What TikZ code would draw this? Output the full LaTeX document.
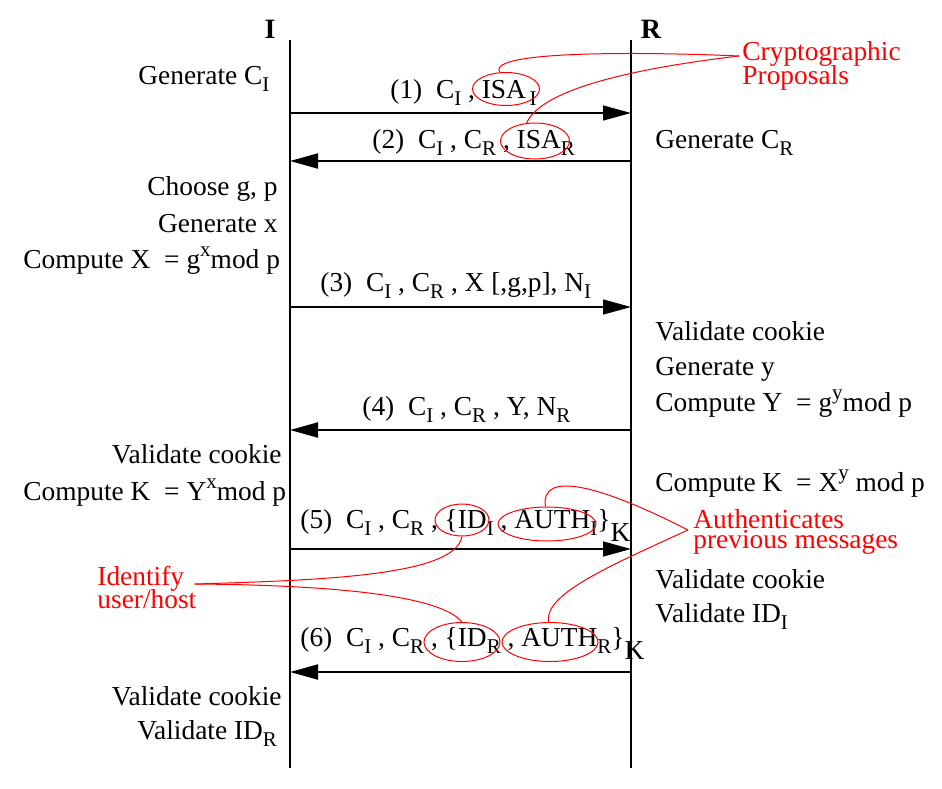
\documentclass[tikz,border=0pt]{standalone}
\usepackage{fontspec}
\setmainfont{Liberation Serif}
\usetikzlibrary{arrows.meta,shapes.geometric,calc}
\lineskiplimit=-20pt
\newcommand\dn[1]{\raisebox{-0.28em}{\fontsize{10.5pt}{12pt}\selectfont #1}}
\newcommand\up[1]{\raisebox{0.42em}{\fontsize{10.5pt}{12pt}\selectfont #1}}
\newcommand\dnK{\raisebox{-0.5em}{K}}
\begin{document}
\begin{tikzpicture}[x=0.5pt,y=-0.5pt,
  every node/.style={font=\fontsize{13.7pt}{16pt}\selectfont, inner sep=0pt},
  lifeline/.style={line width=0.7pt},
  msg/.style={line width=0.7pt,-{Triangle[length=14pt,width=7.5pt]}},
  msgb/.style={line width=1pt,-{Triangle[length=14pt,width=7.5pt]}},
  lbl/.style={anchor=base west},
  lblr/.style={anchor=base east},
  note/.style={text=red, align=left, anchor=north west},
  oval/.style={ellipse, draw=red, line width=0.5pt, inner sep=0pt},
  callout/.style={red, line width=0.5pt}]
\useasboundingbox (0,0) rectangle (942,788);
% lifelines
\node[anchor=base, font=\fontsize{14pt}{16pt}\selectfont\bfseries] (Ilbl) at (270,38) {I};
\node[anchor=base, font=\fontsize{14pt}{16pt}\selectfont\bfseries] (Rlbl) at (651,38) {R};
\coordinate (Itop) at (290,40); \coordinate (Ibot) at (290,768);
\coordinate (Rtop) at (631,40); \coordinate (Rbot) at (631,768);
\draw[lifeline] (Itop) -- (Ibot);
\draw[lifeline] (Rtop) -- (Rbot);
% message anchors
\foreach \n/\y in {1/113,2/161,3/307,4/430,5/549,6/672}{
  \coordinate (I\n) at (290,\y); \coordinate (R\n) at (631,\y);}
\draw[msg]  (I1) -- (R1);
\draw[msgb] (R2) -- (I2);
\draw[msg]  (I3) -- (R3);
\draw[msgb] (R4) -- (I4);
\draw[msg]  (I5) -- (R5);
\draw[msgb] (R6) -- (I6);
% message labels
\node[lbl] (m1) at (390,98) {(1)\ \ C\dn{I} , ISA\dn{\,I}};
\node[lbl] (m2) at (372,148) {(2)\ \ C\dn{I} , C\dn{R} , ISA\dn{R}};
\node[lbl] (m3) at (320,291) {(3)\ \ C\dn{I} , C\dn{R} , X [,g,p], N\dn{I}};
\node[lbl] (m4) at (362,415) {(4)\ \ C\dn{I} , C\dn{R} , Y, N\dn{R}};
\node[lbl] (m5) at (300,528) {(5)\ \ C\dn{I} , C\dn{R} , \{ID\dn{I} , AUTH\dn{I}\}\dnK};
\node[lbl] (m6) at (300,646) {(6)\ \ C\dn{I} , C\dn{R} , \{ID\dn{R} , AUTH\dn{R}\}\dnK};
% left side actions
\node[lbl]  (a1) at (138,84) {Generate C\dn{I}};
\node[lblr] (a2) at (278,195) {Choose g, p};
\node[lblr] (a3) at (278,232) {Generate x};
\node[lbl]  (a4) at (23,268) {Compute X\ \ = g\up{x}mod p};
\node[lblr] (a5) at (282,463) {Validate cookie};
\node[lbl]  (a6) at (23,500) {Compute K\ \ = Y\up{x}mod p};
\node[lblr] (a7) at (282,705) {Validate cookie};
\node[lbl]  (a8) at (137,739) {Validate ID\dn{R}};
% right side actions
\node[lbl] (b1) at (655,148) {Generate C\dn{R}};
\node[lbl] (b2) at (655,340) {Validate cookie};
\node[lbl] (b3) at (655,375) {Generate y};
\node[lbl] (b4) at (655,411) {Compute Y\ \ = g\up{y}mod p};
\node[lbl] (b5) at (655,491) {Compute K\ \ = X\up{y} mod p};
\node[lbl] (b6) at (655,588) {Validate cookie};
\node[lbl] (b7) at (655,622) {Validate ID\dn{I}};
% red ovals
\node[oval, minimum width=33.5pt, minimum height=16.5pt] (e1) at (506,89) {};
\node[oval, minimum width=34.5pt, minimum height=18pt] (e2) at (535,141) {};
\node[oval, minimum width=27pt, minimum height=16pt] (e3) at (462,520) {};
\node[oval, minimum width=49pt, minimum height=17pt] (e4) at (547,524) {};
\node[oval, minimum width=38pt, minimum height=19.5pt] (e5) at (462,642) {};
\node[oval, minimum width=48pt, minimum height=19.5pt] (e6) at (550,642) {};
% red notes
\node[note, font=\fontsize{13.7pt}{12pt}\selectfont] (crypto) at (742,41) {Cryptographic\\Proposals};
\node[note, font=\fontsize{13.7pt}{10pt}\selectfont] (auth) at (693,509) {Authenticates\\previous messages};
\node[note, font=\fontsize{13.7pt}{11.5pt}\selectfont] (ident) at (97,566) {Identify\\user/host};
% callouts
\draw[callout] (e1.110) .. controls (485,50) and (650,52) .. ($(crypto.north west)+(-3,15)$);
\draw[callout] (e2.115) .. controls (540,92) and (620,70) .. ($(crypto.north west)+(-3,15)$);
\draw[callout] (e4.95) .. controls (540,470) and (600,485) .. ($(auth.north west)+(-5,21)$);
\draw[callout] (e6.95) .. controls (545,595) and (600,570) .. ($(auth.north west)+(-5,21)$);
\draw[callout] (e3.south) .. controls (455,575) and (330,580) .. ($(ident.north east)+(-2,18)$);
\draw[callout] (e5.north) .. controls (440,595) and (330,585) .. ($(ident.north east)+(-2,18)$);
\end{tikzpicture}
\end{document}
